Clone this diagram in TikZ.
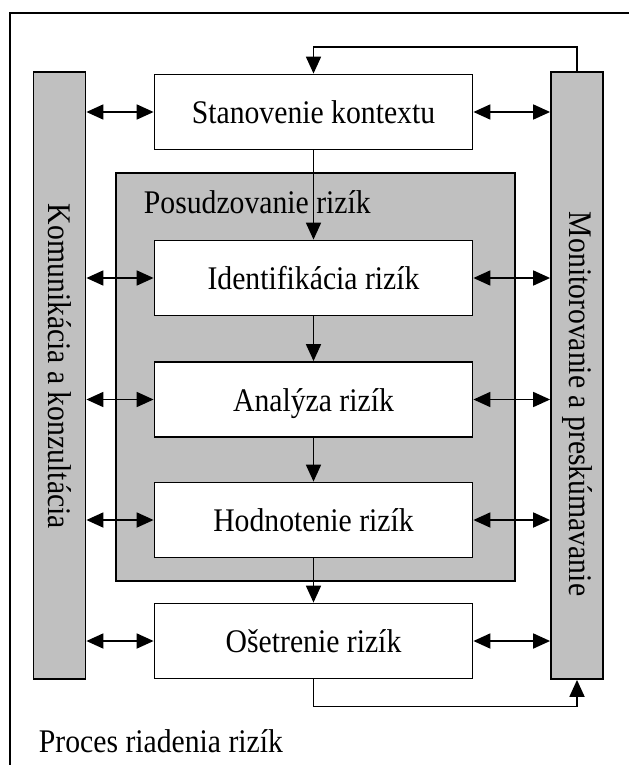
\documentclass[tikz,border=0pt]{standalone}
\usepackage{fontspec}
\usetikzlibrary{arrows.meta}
\newfontfamily\diafont[FakeStretch=0.9]{Liberation Serif}
\newcommand{\dialabel}{\diafont\fontsize{33}{38}\selectfont}
\definecolor{panelgray}{HTML}{C0C0C0}
\tikzset{
  >={Triangle[length=17pt,width=15pt]},
  every path/.style={line width=1.8pt},
  stagebox/.style={draw, fill=white, line width=1.8pt, minimum width=318pt,
    minimum height=75pt, inner sep=0pt, text height=23pt, text depth=0pt,
    font=\dialabel},
  sidebar/.style={draw, fill=panelgray, line width=1.8pt, minimum width=52pt,
    minimum height=607pt, inner sep=0pt},
  bartext/.style={rotate=-90, anchor=west, inner sep=0pt, font=\dialabel},
  flow/.style={->},
  link/.style={<->}
}
\begin{document}
\begin{tikzpicture}[x=1pt, y=-1pt]
  \useasboundingbox (0,0) rectangle (629,765);
  \fill[white] (0,0) rectangle (629,765);

  % outer frame of the whole process
  \draw (10,765) |- (629,13);

  % risk assessment panel
  \node[draw, fill=panelgray, line width=1.8pt, minimum width=399pt,
        minimum height=408pt, inner sep=0pt] (assess) at (315.5,377) {};
  \node[anchor=base west, inner sep=0pt, font=\dialabel] (assesslbl) at (143,213)
        {Posudzovanie rizík};

  % side bars
  \node[sidebar] (kom) at (59.5,375.5) {};
  \node[sidebar] (mon) at (577,375.5) {};
  \node[bartext] (komlbl) at (59.5,203) {Komunikácia a konzultácia};
  \node[bartext] (monlbl) at (577,211) {Monitorovanie a preskúmavanie};

  % process stages
  \node[stagebox] (stan) at (313.5,112) {Stanovenie kontextu};
  \node[stagebox] (ident) at (313.5,278) {Identifikácia rizík};
  \node[stagebox] (anal) at (313.5,399.5) {Analýza rizík};
  \node[stagebox] (hodn) at (313.5,520) {Hodnotenie rizík};
  \node[stagebox] (oset) at (313.5,641) {Ošetrenie rizík};

  % main flow
  \draw[flow] (stan) -- (ident);
  \draw[flow] (ident) -- (anal);
  \draw[flow] (anal) -- (hodn);
  \draw[flow] (hodn) -- (oset);

  % exchange with the side bars
  \foreach \s in {stan,ident,anal,hodn,oset} {
    \draw[link] (kom.east |- \s.west) -- (\s.west);
    \draw[link] (\s.east) -- (mon.west |- \s.east);
  }

  % monitoring feedback loops
  \draw[flow] (mon.north) -- ++(0,-24) -| (stan.north);
  \draw[flow] (oset.south) -- ++(0,27) -| (mon.south);

  \node[anchor=base west, inner sep=0pt, font=\dialabel] (title) at (38,752)
        {Proces riadenia rizík};
\end{tikzpicture}
\end{document}
